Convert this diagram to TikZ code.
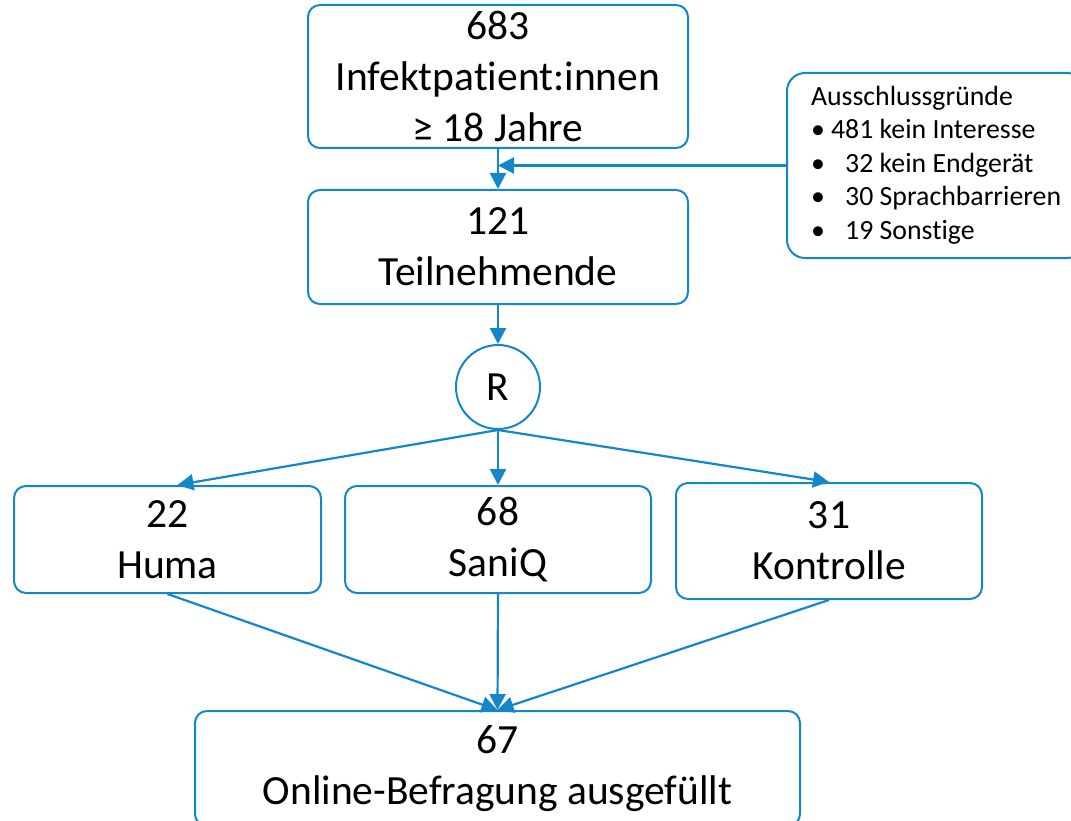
\documentclass[tikz,border=0pt]{standalone}
\usepackage{fontspec}
\setmainfont{Carlito}[Ligatures=NoCommon]
\usepackage{tikz}
\usetikzlibrary{arrows.meta,positioning,calc}
\definecolor{flowblue}{RGB}{20,134,202}

\begin{document}
\begin{tikzpicture}[
    x=1pt, y=1pt,
    box/.style={rectangle, draw=flowblue, line width=2pt, rounded corners=12pt, align=center, inner sep=0pt, font=\fontsize{41.5}{51}\selectfont},
    randcircle/.style={circle, draw=flowblue, line width=2pt, minimum size=84pt, inner sep=0pt, font=\fontsize{41.5}{51}\selectfont},
    notebox/.style={rectangle, draw=flowblue, line width=2pt, rounded corners=18pt, inner xsep=24pt, inner ysep=0pt, minimum height=185pt, font=\fontsize{27.8}{33.5}\selectfont},
    arrow/.style={-{Triangle[length=16pt,width=16pt]}, line width=2.2pt, draw=flowblue}
]
    \useasboundingbox (0,0) rectangle (1071,-821);

    \node [box, minimum width=380pt, minimum height=143pt] (top) at (498,-76.5) {683\\Infektpatient:innen\\≥ 18 Jahre};
    \node [box, minimum width=380pt, minimum height=114pt, below=40pt of top] (part) {121\\Teilnehmende};
    \node [randcircle, below=39pt of part] (rand) {R};

    \node [box, minimum width=307pt, minimum height=107pt] (huma) at (167.5,-539.5) {22\\Huma};
    \node [box, minimum width=306pt, minimum height=107pt] (saniq) at (498,-539.5) {68\\SaniQ};
    \node [box, minimum width=306pt, minimum height=116pt] (kontrolle) at (829,-541) {31\\Kontrolle};
    \node [box, minimum width=605pt, minimum height=115pt] (online) at (497.5,-768.5) {67\\Online-Befragung ausgefüllt};

    \node [notebox, anchor=north west] (excl) at (786,-72) {%
        \begin{tabular}{@{}l@{ }r@{ }l@{}}
            \multicolumn{3}{@{}l@{}}{Ausschlussgründe}\\
            • & 481 & kein Interesse\\
            • & 32 & kein Endgerät\\
            • & 30 & Sprachbarrieren\\
            • & 19 & Sonstige
        \end{tabular}};

    \draw [arrow] (top) -- (part);
    \draw [arrow] (excl.west) -- (excl.west -| part.north);
    \draw [arrow] (part) -- (rand);
    \draw [arrow] (rand.south) -- ([xshift=10pt]huma.north);
    \draw [arrow] (rand.south) -- (saniq.north);
    \draw [arrow] (rand.south) -- (kontrolle.north);
    \draw [arrow] (huma.south) -- (online.north);
    \draw [arrow] (saniq.south) -- (online.north);
    \draw [arrow] (kontrolle.south) -- (online.north);
\end{tikzpicture}
\end{document}
